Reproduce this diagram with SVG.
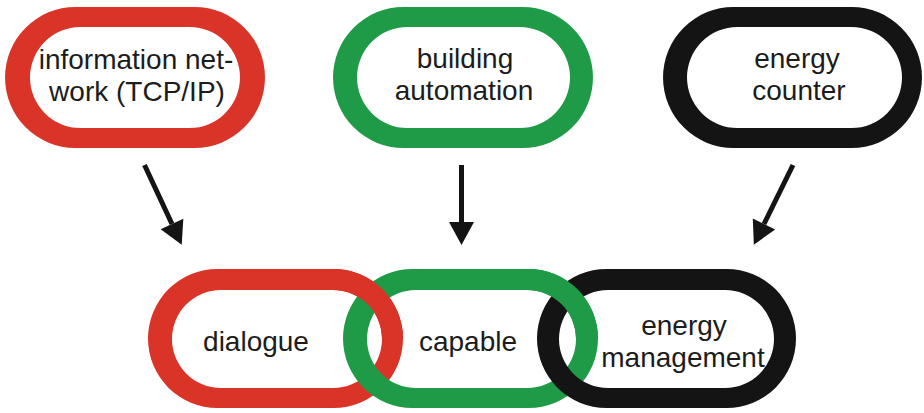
<svg xmlns="http://www.w3.org/2000/svg" width="924" height="413" viewBox="0 0 924 413">
  <style>
    .lbl { font-family: "Liberation Sans", Arial, sans-serif; font-size: 28px; fill: #1c1c1c; text-anchor: middle; }
    .red { fill: #da3327; }
    .green { fill: #1f9b48; }
    .black { fill: #141414; }
    .arrow { stroke: #141414; stroke-width: 5; fill: none; marker-end: url(#head); }
  </style>
  <defs>
    <marker id="head" markerUnits="userSpaceOnUse" markerWidth="24" markerHeight="26" viewBox="0 -13 23 26" refX="0" refY="0" orient="auto">
      <path d="M0,-12.5 L23,0 L0,12.5 Z" fill="#141414"/>
    </marker>
    <!-- bottom chain links (outer stadium + inner stadium, even-odd) -->
    <path id="linkRed" fill-rule="evenodd" d="M217.5,269 H333.5 A69.5,69.5 0 0 1 333.5,408 H217.5 A69.5,69.5 0 0 1 217.5,269 Z M221,290 H333 A49,49 0 0 1 333,388 H221 A49,49 0 0 1 221,290 Z"/>
    <path id="linkGreen" fill-rule="evenodd" d="M412.5,269 H528.5 A69.5,69.5 0 0 1 528.5,408 H412.5 A69.5,69.5 0 0 1 412.5,269 Z M416,290 H527 A49,49 0 0 1 527,388 H416 A49,49 0 0 1 416,290 Z"/>
    <path id="linkBlack" fill-rule="evenodd" d="M606.5,269 H726.5 A69.5,69.5 0 0 1 726.5,408 H606.5 A69.5,69.5 0 0 1 606.5,269 Z M608,290 H725 A49,49 0 0 1 725,388 H608 A49,49 0 0 1 608,290 Z"/>
    <clipPath id="crossA"><rect x="330" y="255" width="90" height="83"/></clipPath>
    <clipPath id="crossB"><rect x="525" y="255" width="90" height="83"/></clipPath>
  </defs>

  <rect width="924" height="413" fill="#ffffff"/>

  <!-- top row -->
  <g id="node-network">
    <path class="red" fill-rule="evenodd" d="M75.5,7 H194.5 A70.5,70.5 0 0 1 194.5,148 H75.5 A70.5,70.5 0 0 1 75.5,7 Z M80.5,27 H189.5 A50.5,50.5 0 0 1 189.5,128 H80.5 A50.5,50.5 0 0 1 80.5,27 Z"/>
    <text class="lbl" x="136" y="69">information net-</text>
    <text class="lbl" x="137" y="101">work (TCP/IP)</text>
  </g>

  <g id="node-building">
    <path class="green" fill-rule="evenodd" d="M403.5,7 H522.5 A70.5,70.5 0 0 1 522.5,148 H403.5 A70.5,70.5 0 0 1 403.5,7 Z M407.5,27 H519.5 A50.5,50.5 0 0 1 519.5,128 H407.5 A50.5,50.5 0 0 1 407.5,27 Z"/>
    <text class="lbl" x="465" y="68">building</text>
    <text class="lbl" x="464" y="100">automation</text>
  </g>

  <g id="node-counter">
    <path class="black" fill-rule="evenodd" d="M733.5,7 H851.5 A70.5,70.5 0 0 1 851.5,148 H733.5 A70.5,70.5 0 0 1 733.5,7 Z M737.5,27 H851.5 A50.5,50.5 0 0 1 851.5,128 H737.5 A50.5,50.5 0 0 1 737.5,27 Z"/>
    <text class="lbl" x="797" y="68">energy</text>
    <text class="lbl" x="799" y="100">counter</text>
  </g>

  <!-- connectors -->
  <g id="connectors">
    <line class="arrow" x1="144.5" y1="165" x2="172" y2="224"/>
    <line class="arrow" x1="461.5" y1="165" x2="461.5" y2="222"/>
    <line class="arrow" x1="793" y1="165" x2="764" y2="224"/>
  </g>

  <!-- bottom chain -->
  <g id="node-dialogue">
    <use href="#linkRed" class="red"/>
    <text class="lbl" x="256" y="351">dialogue</text>
  </g>

  <g id="node-capable">
    <use href="#linkGreen" class="green"/>
    <text class="lbl" x="468" y="351">capable</text>
  </g>

  <g id="node-management">
    <use href="#linkBlack" class="black"/>
    <text class="lbl" x="684" y="335">energy</text>
    <text class="lbl" x="683" y="367">management</text>
  </g>

  <!-- upper crossings: left link passes over the next one -->
  <g id="interlock">
    <use href="#linkRed" class="red" clip-path="url(#crossA)"/>
    <use href="#linkGreen" class="green" clip-path="url(#crossB)"/>
  </g>
</svg>
